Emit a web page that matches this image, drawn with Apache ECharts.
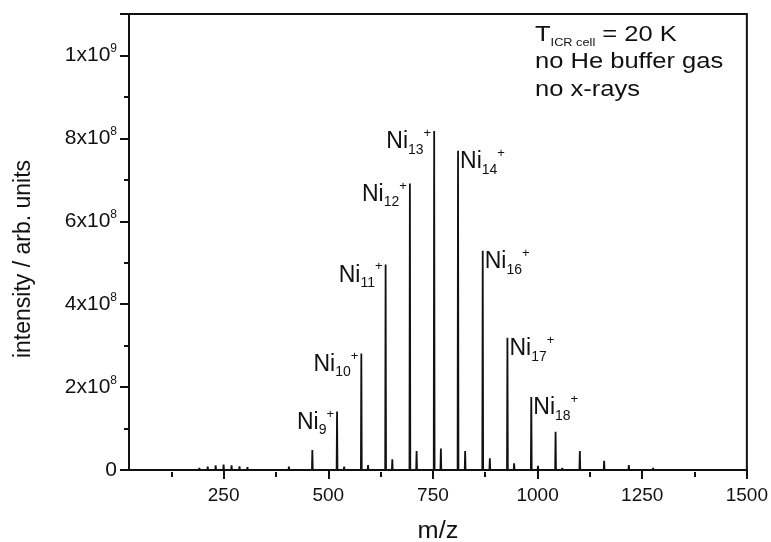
<!DOCTYPE html>
<html><head><meta charset="utf-8">
<script src="https://cdn.jsdelivr.net/npm/echarts@6/dist/echarts.min.js"></script>
<style>html,body{margin:0;padding:0;background:#fff}#c{width:771px;height:542px}</style>
</head><body><div id="c"></div>
<script>
// ---- data ----
const peakMz = [192,212,231,250,269,288,307,326,345,406,462,521,538,579,595,637,653,695,711,753,769,810,827,869,886,928,944,985,1001,1043,1059,1101,1117,1159,1218,1276,1333,1391,1450];
const peakIntensity = [5e6,8e6,1.1e7,1.3e7,1.1e7,9e6,7e6,4e6,2e6,8e6,4.8e7,1.41e8,8e6,2.81e8,1.2e7,4.96e8,2.6e7,6.91e8,4.6e7,8.18e8,5.2e7,7.7e8,4.6e7,5.29e8,2.8e7,3.19e8,1.6e7,1.76e8,1.0e7,9.2e7,5e6,4.6e7,3e6,2.2e7,1.2e7,5e6,3e6,2e6,1.5e6];
const labelMz = [521,579,637,695,753,810,869,928,985];
const labelSize = ['9','10','11','12','13','14','16','17','18'];
const labelSide = ['left','left','left','left','left','right','right','right','right'];
const xTickLabels = [250,500,750,1000,1250,1500];
const xMinorTicks = [125,375,625,875,1125,1375];
const annoTemp = ['T', 'ICR cell', ' = 20 K'];
const annoLines = ['no He buffer gas', 'no x-rays'];
const xTitle = 'm/z';
const yTitle = 'intensity / arb. units';

// ---- build ----
const FONT = 'Liberation Sans, Arial, sans-serif';
const INK = '#111';
const spectrum = [[24, 0]];
peakMz.forEach((m, i) => { spectrum.push([m - 1, 0], [m, peakIntensity[i]], [m + 1, 0]); });
spectrum.push([1500, 0]);

const labelData = labelMz.map((m, i) => {
  const h = peakIntensity[peakMz.indexOf(m)];
  const left = labelSide[i] === 'left';
  return {
    value: [m, h, labelSize[i]],
    label: {
      position: left ? [-3, -4] : [2, -4],
      align: left ? 'right' : 'left',
      verticalAlign: 'top'
    }
  };
});

const chart = echarts.init(document.getElementById('c'), null, {renderer: 'canvas'});
chart.setOption({
  animation: false,
  backgroundColor: '#fff',
  grid: {left: 129, right: 24, top: 14, bottom: 72, show: true, borderColor: INK, borderWidth: 2, backgroundColor: 'transparent'},
  xAxis: [{
    type: 'value', min: 24, max: 1500, offset: 2,
    axisLine: {show: true, lineStyle: {color: INK, width: 2}},
    axisTick: {show: true, length: 9, lineStyle: {color: INK, width: 2}, customValues: xTickLabels},
    axisLabel: {color: INK, fontFamily: FONT, fontSize: 19, margin: 14, customValues: xTickLabels, formatter: v => String(v)},
    splitLine: {show: false}
  }, {
    type: 'value', min: 24, max: 1500, offset: 2, position: 'bottom',
    axisLine: {show: false},
    axisTick: {show: true, length: 5, lineStyle: {color: INK, width: 2}, customValues: xMinorTicks},
    axisLabel: {show: false},
    splitLine: {show: false}
  }],
  yAxis: {
    type: 'value', min: 0, max: 1.1e9, interval: 2e8,
    axisLine: {show: true, lineStyle: {color: INK, width: 2}},
    axisTick: {show: true, length: 9, lineStyle: {color: INK, width: 2}},
    minorTick: {show: true, splitNumber: 2, length: 5, lineStyle: {color: INK, width: 2}},
    splitLine: {show: false},
    axisLabel: {
      showMaxLabel: false, margin: 12, color: INK, fontFamily: FONT,
      formatter: v => {
        if (v === 0) return '{m|0}';
        const e = Math.floor(Math.log10(v) + 1e-9);
        const m = Math.round(v / Math.pow(10, e));
        return '{m|' + m + 'x10}{e|' + e + '}';
      },
      rich: {
        m: {fontSize: 21, lineHeight: 25, fontFamily: FONT, color: INK},
        e: {fontSize: 12, lineHeight: 12, verticalAlign: 'top', fontFamily: FONT, color: INK}
      }
    }
  },
  graphic: [{
    type: 'text', x: 24, y: 259, rotation: Math.PI / 2,
    style: {text: yTitle, font: '23px ' + FONT, fill: INK, align: 'center', verticalAlign: 'middle', textAlign: 'center', textVerticalAlign: 'middle'}
  }, {
    type: 'text', x: 438, y: 532, scaleX: 1.1,
    style: {text: xTitle, font: '23px ' + FONT, fill: INK, align: 'center', verticalAlign: 'middle', textAlign: 'center', textVerticalAlign: 'middle'}
  }, {
    type: 'text', x: 535, y: 21, scaleX: 1.16,
    style: {
      text: '{t|' + annoTemp[0] + '}{s|' + annoTemp[1] + '}{t|' + annoTemp[2] + '}\n' + annoLines.map(l => '{t|' + l + '}').join('\n'),
      fill: INK,
      rich: {
        t: {fontSize: 22, lineHeight: 27.5, fontFamily: FONT, fill: INK, color: INK},
        s: {fontSize: 11, lineHeight: 11, verticalAlign: 'bottom', fontFamily: FONT, fill: INK, color: INK}
      }
    }
  }],
  series: [{
    type: 'line', data: spectrum, showSymbol: false, symbol: 'none',
    lineStyle: {color: '#111', width: 1.8}, clip: true, silent: true, z: 3
  }, {
    type: 'scatter', data: labelData, symbolSize: 0, silent: true, z: 4,
    itemStyle: {opacity: 1, color: INK},
    label: {
      show: true, color: INK, opacity: 1,
      formatter: p => '{a|Ni}{s|' + p.value[2] + '}{p|+}',
      rich: {
        a: {fontSize: 23, lineHeight: 30, fontFamily: FONT, color: INK},
        s: {fontSize: 14, lineHeight: 12, verticalAlign: 'bottom', fontFamily: FONT, color: INK},
        p: {fontSize: 13, lineHeight: 12, verticalAlign: 'top', fontFamily: FONT, color: INK}
      }
    }
  }]
});
</script></body></html>
